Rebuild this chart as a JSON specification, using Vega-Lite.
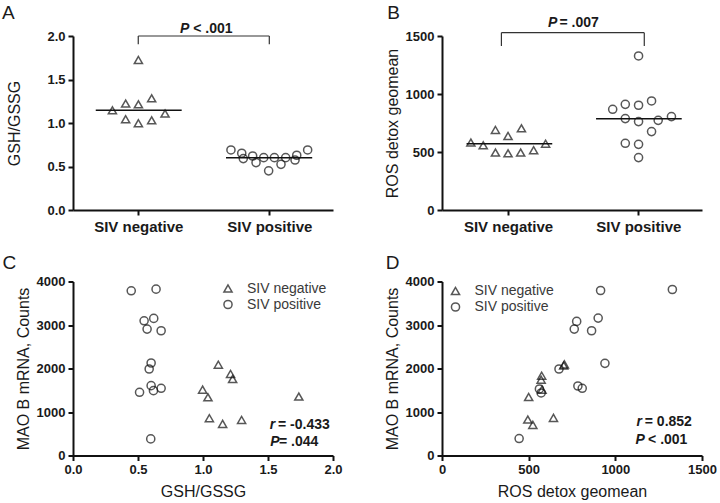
{
  "$schema": "https://vega.github.io/schema/vega-lite/v6.json",
  "padding": {"left": 2, "top": 4, "right": 0, "bottom": 0},
  "background": "white",
  "datasets": {
    "a_pts": [
      {"group": "SIV negative", "x": 0.503, "gsh": 1.724},
      {"group": "SIV negative", "x": 0.303, "gsh": 1.146},
      {"group": "SIV negative", "x": 0.405, "gsh": 1.223},
      {"group": "SIV negative", "x": 0.503, "gsh": 1.215},
      {"group": "SIV negative", "x": 0.605, "gsh": 1.284},
      {"group": "SIV negative", "x": 0.708, "gsh": 1.108},
      {"group": "SIV negative", "x": 0.405, "gsh": 1.043},
      {"group": "SIV negative", "x": 0.503, "gsh": 0.997},
      {"group": "SIV negative", "x": 0.605, "gsh": 1.031},
      {"group": "SIV positive", "x": 1.215, "gsh": 0.690},
      {"group": "SIV positive", "x": 1.298, "gsh": 0.652},
      {"group": "SIV positive", "x": 1.310, "gsh": 0.591},
      {"group": "SIV positive", "x": 1.382, "gsh": 0.621},
      {"group": "SIV positive", "x": 1.408, "gsh": 0.545},
      {"group": "SIV positive", "x": 1.467, "gsh": 0.602},
      {"group": "SIV positive", "x": 1.505, "gsh": 0.450},
      {"group": "SIV positive", "x": 1.549, "gsh": 0.602},
      {"group": "SIV positive", "x": 1.600, "gsh": 0.525},
      {"group": "SIV positive", "x": 1.636, "gsh": 0.602},
      {"group": "SIV positive", "x": 1.708, "gsh": 0.575},
      {"group": "SIV positive", "x": 1.721, "gsh": 0.629},
      {"group": "SIV positive", "x": 1.805, "gsh": 0.690}
    ],
    "a_med": [
      {"group": "SIV negative", "x1": 0.175, "x2": 0.836, "median": 1.146},
      {"group": "SIV positive", "x1": 1.177, "x2": 1.840, "median": 0.602}
    ],
    "a_bracket": [
      {"x1": 0.502, "x2": 1.51, "y1": 2.0, "y2": 2.0},
      {"x1": 0.502, "x2": 0.502, "y1": 2.0, "y2": 1.905},
      {"x1": 1.51, "x2": 1.51, "y1": 2.0, "y2": 1.905}
    ],
    "a_p_it": [{"t": "P", "x": 0.823, "y": 2.085}],
    "a_p_txt": [{"t": "< .001", "x": 0.925, "y": 2.085}],
    "a_letter": [{"t": "A", "x": -0.546, "y": 2.192}],
    "b_pts": [
      {"group": "SIV negative", "x": 0.222, "ros": 581},
      {"group": "SIV negative", "x": 0.317, "ros": 558},
      {"group": "SIV negative", "x": 0.411, "ros": 690},
      {"group": "SIV negative", "x": 0.508, "ros": 638},
      {"group": "SIV negative", "x": 0.611, "ros": 704},
      {"group": "SIV negative", "x": 0.411, "ros": 495},
      {"group": "SIV negative", "x": 0.508, "ros": 489},
      {"group": "SIV negative", "x": 0.605, "ros": 495},
      {"group": "SIV negative", "x": 0.705, "ros": 515},
      {"group": "SIV negative", "x": 0.797, "ros": 572},
      {"group": "SIV positive", "x": 1.512, "ros": 1328},
      {"group": "SIV positive", "x": 1.313, "ros": 868},
      {"group": "SIV positive", "x": 1.410, "ros": 911},
      {"group": "SIV positive", "x": 1.512, "ros": 903},
      {"group": "SIV positive", "x": 1.612, "ros": 940},
      {"group": "SIV positive", "x": 1.410, "ros": 788},
      {"group": "SIV positive", "x": 1.512, "ros": 762},
      {"group": "SIV positive", "x": 1.663, "ros": 773},
      {"group": "SIV positive", "x": 1.765, "ros": 805},
      {"group": "SIV positive", "x": 1.612, "ros": 676},
      {"group": "SIV positive", "x": 1.410, "ros": 575},
      {"group": "SIV positive", "x": 1.512, "ros": 566},
      {"group": "SIV positive", "x": 1.512, "ros": 452}
    ],
    "b_med": [
      {"group": "SIV negative", "x1": 0.189, "x2": 0.848, "median": 572},
      {"group": "SIV positive", "x1": 1.185, "x2": 1.844, "median": 787}
    ],
    "b_bracket": [
      {"x1": 0.457, "x2": 1.556, "y1": 1529, "y2": 1529},
      {"x1": 0.457, "x2": 0.457, "y1": 1529, "y2": 1414},
      {"x1": 1.556, "x2": 1.556, "y1": 1529, "y2": 1414}
    ],
    "b_p_it": [{"t": "P", "x": 0.815, "y": 1616}],
    "b_p_txt": [{"t": "= .007", "x": 0.904, "y": 1616}],
    "b_letter": [{"t": "B", "x": -0.421, "y": 1644}],
    "c_pts": [
      {"group": "SIV positive", "gsh": 0.448, "mao": 3786},
      {"group": "SIV positive", "gsh": 0.639, "mao": 3824},
      {"group": "SIV positive", "gsh": 0.547, "mao": 3097},
      {"group": "SIV positive", "gsh": 0.621, "mao": 3151},
      {"group": "SIV positive", "gsh": 0.570, "mao": 2906},
      {"group": "SIV positive", "gsh": 0.678, "mao": 2868},
      {"group": "SIV positive", "gsh": 0.601, "mao": 2126},
      {"group": "SIV positive", "gsh": 0.586, "mao": 1988},
      {"group": "SIV positive", "gsh": 0.512, "mao": 1453},
      {"group": "SIV positive", "gsh": 0.601, "mao": 1606},
      {"group": "SIV positive", "gsh": 0.619, "mao": 1491},
      {"group": "SIV positive", "gsh": 0.678, "mao": 1545},
      {"group": "SIV positive", "gsh": 0.598, "mao": 382},
      {"group": "SIV negative", "gsh": 1.118, "mao": 2088},
      {"group": "SIV negative", "gsh": 1.212, "mao": 1874},
      {"group": "SIV negative", "gsh": 1.228, "mao": 1759},
      {"group": "SIV negative", "gsh": 0.997, "mao": 1514},
      {"group": "SIV negative", "gsh": 1.038, "mao": 1338},
      {"group": "SIV negative", "gsh": 1.049, "mao": 857},
      {"group": "SIV negative", "gsh": 1.151, "mao": 727},
      {"group": "SIV negative", "gsh": 1.297, "mao": 818},
      {"group": "SIV negative", "gsh": 1.737, "mao": 1354}
    ],
    "c_it": [{"t": "r", "x": 1.513, "y": 711}, {"t": "P", "x": 1.518, "y": 307}],
    "c_txt": [{"t": "= -0.433", "x": 1.577, "y": 711}, {"t": "= .044", "x": 1.584, "y": 307}],
    "c_letter": [{"t": "C", "x": -0.542, "y": 4283}],
    "d_pts": [
      {"group": "SIV positive", "ros": 1329, "mao": 3816},
      {"group": "SIV positive", "ros": 915, "mao": 3793},
      {"group": "SIV positive", "ros": 777, "mao": 3082},
      {"group": "SIV positive", "ros": 763, "mao": 2906},
      {"group": "SIV positive", "ros": 901, "mao": 3159},
      {"group": "SIV positive", "ros": 863, "mao": 2868},
      {"group": "SIV positive", "ros": 940, "mao": 2118},
      {"group": "SIV positive", "ros": 675, "mao": 1988},
      {"group": "SIV positive", "ros": 784, "mao": 1598},
      {"group": "SIV positive", "ros": 809, "mao": 1545},
      {"group": "SIV positive", "ros": 562, "mao": 1530},
      {"group": "SIV positive", "ros": 572, "mao": 1438},
      {"group": "SIV positive", "ros": 445, "mao": 390},
      {"group": "SIV negative", "ros": 702, "mao": 2070},
      {"group": "SIV negative", "ros": 706, "mao": 2095},
      {"group": "SIV negative", "ros": 575, "mao": 1835},
      {"group": "SIV negative", "ros": 572, "mao": 1743},
      {"group": "SIV negative", "ros": 577, "mao": 1514},
      {"group": "SIV negative", "ros": 500, "mao": 1345},
      {"group": "SIV negative", "ros": 495, "mao": 826},
      {"group": "SIV negative", "ros": 524, "mao": 704},
      {"group": "SIV negative", "ros": 643, "mao": 865}
    ],
    "d_it": [{"t": "r", "x": 1122, "y": 766}, {"t": "P", "x": 1116, "y": 367}],
    "d_txt": [{"t": "= 0.852", "x": 1170, "y": 766}, {"t": "< .001", "x": 1189, "y": 367}],
    "d_letter": [{"t": "D", "x": -324, "y": 4283}]
  },
  "config": {
    "font": "Liberation Sans",
    "view": {"stroke": null},
    "axis": {
      "grid": false,
      "labelFlush": false,
      "domainColor": "#111",
      "domainWidth": 2,
      "tickColor": "#111",
      "tickWidth": 2,
      "tickSize": 5,
      "labelFont": "Liberation Sans",
      "labelFontWeight": "bold",
      "labelFontSize": 13,
      "labelColor": "#1a1a1a",
      "labelPadding": 3,
      "titleFont": "Liberation Sans",
      "titleFontWeight": "normal",
      "titleFontSize": 16,
      "titleColor": "#1a1a1a"
    },
    "legend": {
      "orient": "none",
      "title": null,
      "labelFont": "Liberation Sans",
      "labelFontSize": 14,
      "labelColor": "#3a3a3a",
      "symbolStrokeColor": "#111",
      "symbolFillColor": "transparent",
      "symbolStrokeWidth": 1.5,
      "symbolSize": 66,
      "labelOffset": 12,
      "rowPadding": 1,
      "padding": 0
    }
  },
  "bounds": "flush",
  "columns": 2,
  "spacing": {"row": 71.5, "column": 109},
  "resolve": {"scale": {"shape": "independent", "x": "independent", "y": "independent"}, "legend": {"shape": "independent"}},
  "concat": [
    {
      "width": 260,
      "height": 174,
      "layer": [
        {
          "data": {"name": "a_pts"},
          "mark": {"type": "point", "filled": false, "size": 66, "strokeWidth": 1.5, "color": "#111"},
          "encoding": {
            "x": {"field": "x", "type": "quantitative", "title": null, "scale": {"domain": [0, 2], "nice": false}, "axis": {"values": [0.502, 1.51], "labelExpr": "datum.value < 1 ? 'SIV negative' : 'SIV positive'", "labelFontSize": 15, "labelPadding": 4}},
            "y": {"field": "gsh", "type": "quantitative", "title": "GSH/GSSG", "scale": {"domain": [0, 2], "nice": false}, "axis": {"values": [0, 0.5, 1, 1.5, 2], "format": ".1f", "titlePadding": 24}},
            "shape": {"field": "group", "type": "nominal", "scale": {"domain": ["SIV negative", "SIV positive"], "range": ["triangle-up", "circle"]}, "legend": null}
          }
        },
        {
          "data": {"name": "a_med"},
          "mark": {"type": "rule", "color": "#111", "strokeWidth": 1.5},
          "encoding": {
            "x": {"field": "x1", "type": "quantitative", "title": null, "scale": {"domain": [0, 2], "nice": false}},
            "x2": {"field": "x2"},
            "y": {"field": "median", "type": "quantitative", "title": "GSH/GSSG", "scale": {"domain": [0, 2], "nice": false}}
          }
        },
        {
          "data": {"name": "a_bracket"},
          "mark": {"type": "rule", "color": "#333", "strokeWidth": 1.2},
          "encoding": {
            "x": {"field": "x1", "type": "quantitative", "title": null, "scale": {"domain": [0, 2], "nice": false}},
            "x2": {"field": "x2"},
            "y": {"field": "y1", "type": "quantitative", "title": "GSH/GSSG", "scale": {"domain": [0, 2], "nice": false}},
            "y2": {"field": "y2"}
          }
        },
        {
          "data": {"name": "a_p_it"},
          "mark": {"type": "text", "align": "left", "baseline": "middle", "fontSize": 14, "fontWeight": "bold", "fontStyle": "italic", "color": "#1a1a1a"},
          "encoding": {
            "x": {"field": "x", "type": "quantitative", "title": null, "scale": {"domain": [0, 2], "nice": false}},
            "y": {"field": "y", "type": "quantitative", "title": "GSH/GSSG", "scale": {"domain": [0, 2], "nice": false}},
            "text": {"field": "t"}
          }
        },
        {
          "data": {"name": "a_p_txt"},
          "mark": {"type": "text", "align": "left", "baseline": "middle", "fontSize": 14, "fontWeight": "bold", "color": "#1a1a1a"},
          "encoding": {
            "x": {"field": "x", "type": "quantitative", "title": null, "scale": {"domain": [0, 2], "nice": false}},
            "y": {"field": "y", "type": "quantitative", "title": "GSH/GSSG", "scale": {"domain": [0, 2], "nice": false}},
            "text": {"field": "t"}
          }
        },
        {
          "data": {"name": "a_letter"},
          "mark": {"type": "text", "align": "left", "baseline": "alphabetic", "fontSize": 19, "color": "#1a1a1a"},
          "encoding": {
            "x": {"field": "x", "type": "quantitative", "title": null, "scale": {"domain": [0, 2], "nice": false}},
            "y": {"field": "y", "type": "quantitative", "title": "GSH/GSSG", "scale": {"domain": [0, 2], "nice": false}},
            "text": {"field": "t"}
          }
        }
      ]
    },
    {
      "width": 260,
      "height": 174,
      "layer": [
        {
          "data": {"name": "b_pts"},
          "mark": {"type": "point", "filled": false, "size": 66, "strokeWidth": 1.5, "color": "#111"},
          "encoding": {
            "x": {"field": "x", "type": "quantitative", "title": null, "scale": {"domain": [0, 2], "nice": false}, "axis": {"values": [0.508, 1.51], "labelExpr": "datum.value < 1 ? 'SIV negative' : 'SIV positive'", "labelFontSize": 15, "labelPadding": 4}},
            "y": {"field": "ros", "type": "quantitative", "title": "ROS detox geomean", "scale": {"domain": [0, 1500], "nice": false}, "axis": {"values": [0, 500, 1000, 1500], "format": "d", "titlePadding": 5}},
            "shape": {"field": "group", "type": "nominal", "scale": {"domain": ["SIV negative", "SIV positive"], "range": ["triangle-up", "circle"]}, "legend": null}
          }
        },
        {
          "data": {"name": "b_med"},
          "mark": {"type": "rule", "color": "#111", "strokeWidth": 1.5},
          "encoding": {
            "x": {"field": "x1", "type": "quantitative", "title": null, "scale": {"domain": [0, 2], "nice": false}},
            "x2": {"field": "x2"},
            "y": {"field": "median", "type": "quantitative", "title": "ROS detox geomean", "scale": {"domain": [0, 1500], "nice": false}}
          }
        },
        {
          "data": {"name": "b_bracket"},
          "mark": {"type": "rule", "color": "#333", "strokeWidth": 1.2},
          "encoding": {
            "x": {"field": "x1", "type": "quantitative", "title": null, "scale": {"domain": [0, 2], "nice": false}},
            "x2": {"field": "x2"},
            "y": {"field": "y1", "type": "quantitative", "title": "ROS detox geomean", "scale": {"domain": [0, 1500], "nice": false}},
            "y2": {"field": "y2"}
          }
        },
        {
          "data": {"name": "b_p_it"},
          "mark": {"type": "text", "align": "left", "baseline": "middle", "fontSize": 14, "fontWeight": "bold", "fontStyle": "italic", "color": "#1a1a1a"},
          "encoding": {
            "x": {"field": "x", "type": "quantitative", "title": null, "scale": {"domain": [0, 2], "nice": false}},
            "y": {"field": "y", "type": "quantitative", "title": "ROS detox geomean", "scale": {"domain": [0, 1500], "nice": false}},
            "text": {"field": "t"}
          }
        },
        {
          "data": {"name": "b_p_txt"},
          "mark": {"type": "text", "align": "left", "baseline": "middle", "fontSize": 14, "fontWeight": "bold", "color": "#1a1a1a"},
          "encoding": {
            "x": {"field": "x", "type": "quantitative", "title": null, "scale": {"domain": [0, 2], "nice": false}},
            "y": {"field": "y", "type": "quantitative", "title": "ROS detox geomean", "scale": {"domain": [0, 1500], "nice": false}},
            "text": {"field": "t"}
          }
        },
        {
          "data": {"name": "b_letter"},
          "mark": {"type": "text", "align": "left", "baseline": "alphabetic", "fontSize": 19, "color": "#1a1a1a"},
          "encoding": {
            "x": {"field": "x", "type": "quantitative", "title": null, "scale": {"domain": [0, 2], "nice": false}},
            "y": {"field": "y", "type": "quantitative", "title": "ROS detox geomean", "scale": {"domain": [0, 1500], "nice": false}},
            "text": {"field": "t"}
          }
        }
      ]
    },
    {
      "width": 260,
      "height": 174,
      "layer": [
        {
          "data": {"name": "c_pts"},
          "mark": {"type": "point", "filled": false, "size": 66, "strokeWidth": 1.5, "color": "#111"},
          "encoding": {
            "x": {"field": "gsh", "type": "quantitative", "title": "GSH/GSSG", "scale": {"domain": [0, 2], "nice": false}, "axis": {"values": [0, 0.5, 1, 1.5, 2], "format": ".1f", "titlePadding": 7}},
            "y": {"field": "mao", "type": "quantitative", "title": "MAO B mRNA, Counts", "scale": {"domain": [0, 4000], "nice": false}, "axis": {"values": [0, 1000, 2000, 3000, 4000], "format": "d", "titlePadding": 5}},
            "shape": {"field": "group", "type": "nominal", "scale": {"domain": ["SIV negative", "SIV positive"], "range": ["triangle-up", "circle"]}, "legend": {"legendX": 148, "legendY": 0}}
          }
        },
        {
          "data": {"name": "c_it"},
          "mark": {"type": "text", "align": "left", "baseline": "middle", "fontSize": 14, "fontWeight": "bold", "fontStyle": "italic", "color": "#1a1a1a"},
          "encoding": {
            "x": {"field": "x", "type": "quantitative", "title": "GSH/GSSG", "scale": {"domain": [0, 2], "nice": false}},
            "y": {"field": "y", "type": "quantitative", "title": "MAO B mRNA, Counts", "scale": {"domain": [0, 4000], "nice": false}},
            "text": {"field": "t"}
          }
        },
        {
          "data": {"name": "c_txt"},
          "mark": {"type": "text", "align": "left", "baseline": "middle", "fontSize": 14, "fontWeight": "bold", "color": "#1a1a1a"},
          "encoding": {
            "x": {"field": "x", "type": "quantitative", "title": "GSH/GSSG", "scale": {"domain": [0, 2], "nice": false}},
            "y": {"field": "y", "type": "quantitative", "title": "MAO B mRNA, Counts", "scale": {"domain": [0, 4000], "nice": false}},
            "text": {"field": "t"}
          }
        },
        {
          "data": {"name": "c_letter"},
          "mark": {"type": "text", "align": "left", "baseline": "alphabetic", "fontSize": 19, "color": "#1a1a1a"},
          "encoding": {
            "x": {"field": "x", "type": "quantitative", "title": "GSH/GSSG", "scale": {"domain": [0, 2], "nice": false}},
            "y": {"field": "y", "type": "quantitative", "title": "MAO B mRNA, Counts", "scale": {"domain": [0, 4000], "nice": false}},
            "text": {"field": "t"}
          }
        }
      ]
    },
    {
      "width": 260,
      "height": 174,
      "layer": [
        {
          "data": {"name": "d_pts"},
          "mark": {"type": "point", "filled": false, "size": 66, "strokeWidth": 1.5, "color": "#111"},
          "encoding": {
            "x": {"field": "ros", "type": "quantitative", "title": "ROS detox geomean", "scale": {"domain": [0, 1500], "nice": false}, "axis": {"values": [0, 500, 1000, 1500], "format": "d", "titlePadding": 7}},
            "y": {"field": "mao", "type": "quantitative", "title": "MAO B mRNA, Counts", "scale": {"domain": [0, 4000], "nice": false}, "axis": {"values": [0, 1000, 2000, 3000, 4000], "format": "d", "titlePadding": 5}},
            "shape": {"field": "group", "type": "nominal", "scale": {"domain": ["SIV negative", "SIV positive"], "range": ["triangle-up", "circle"]}, "legend": {"legendX": 6.5, "legendY": 2.5}}
          }
        },
        {
          "data": {"name": "d_it"},
          "mark": {"type": "text", "align": "left", "baseline": "middle", "fontSize": 14, "fontWeight": "bold", "fontStyle": "italic", "color": "#1a1a1a"},
          "encoding": {
            "x": {"field": "x", "type": "quantitative", "title": "ROS detox geomean", "scale": {"domain": [0, 1500], "nice": false}},
            "y": {"field": "y", "type": "quantitative", "title": "MAO B mRNA, Counts", "scale": {"domain": [0, 4000], "nice": false}},
            "text": {"field": "t"}
          }
        },
        {
          "data": {"name": "d_txt"},
          "mark": {"type": "text", "align": "left", "baseline": "middle", "fontSize": 14, "fontWeight": "bold", "color": "#1a1a1a"},
          "encoding": {
            "x": {"field": "x", "type": "quantitative", "title": "ROS detox geomean", "scale": {"domain": [0, 1500], "nice": false}},
            "y": {"field": "y", "type": "quantitative", "title": "MAO B mRNA, Counts", "scale": {"domain": [0, 4000], "nice": false}},
            "text": {"field": "t"}
          }
        },
        {
          "data": {"name": "d_letter"},
          "mark": {"type": "text", "align": "left", "baseline": "alphabetic", "fontSize": 19, "color": "#1a1a1a"},
          "encoding": {
            "x": {"field": "x", "type": "quantitative", "title": "ROS detox geomean", "scale": {"domain": [0, 1500], "nice": false}},
            "y": {"field": "y", "type": "quantitative", "title": "MAO B mRNA, Counts", "scale": {"domain": [0, 4000], "nice": false}},
            "text": {"field": "t"}
          }
        }
      ]
    }
  ]
}
